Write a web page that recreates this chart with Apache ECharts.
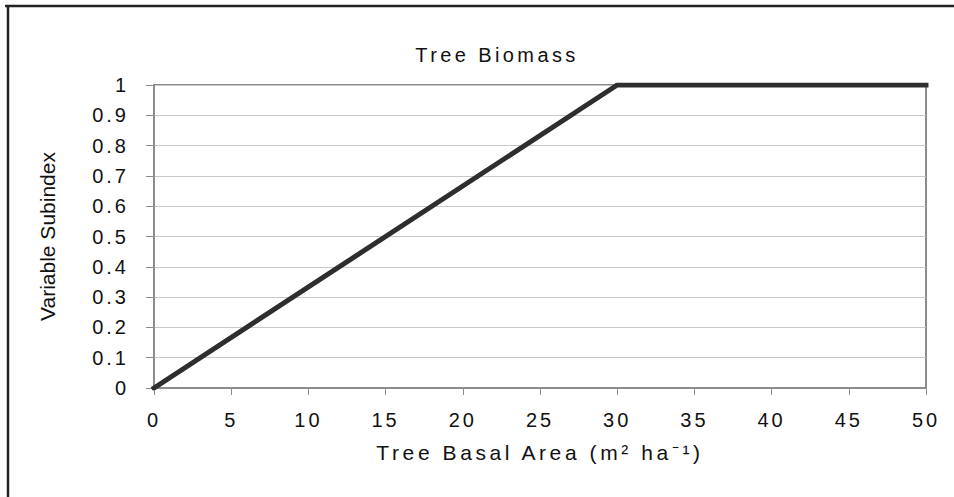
<!DOCTYPE html>
<html>
<head>
<meta charset="utf-8">
<title>Tree Biomass</title>
<script src="https://cdn.jsdelivr.net/npm/echarts@6/dist/echarts.min.js"></script>
<style>
  html, body { margin: 0; padding: 0; background: #fff; }
  /* spaced-out lettering like the original figure (svg text inherits it) */
  #chart { width: 954px; height: 497px; letter-spacing: 3px; }
</style>
</head>
<body>
<div id="chart"></div>
<script>
// data: basal area (m2/ha) -> variable subindex
const basalArea = [0, 30, 50];
const subindex = [0, 1, 1];

const xMin = 0, xMax = 50, xStep = 5;
const yMin = 0, yMax = 1, yStep = 0.1;

const titleText = 'Tree Biomass';
const xName = 'Tree Basal Area (m² ha⁻¹)';
const yName = 'Variable Subindex';

const chart = echarts.init(document.getElementById('chart'), null, { renderer: 'svg' });

const font = '"Liberation Sans", Arial, sans-serif';

const option = {
  animation: false,
  backgroundColor: '#fff',
  grid: {
    left: 154,
    right: 28,
    top: 85,
    bottom: 109,
    show: true,
    borderColor: '#8c8c8c',
    borderWidth: 2
  },
  graphic: [
    // outer frame (only top + left edges are visible)
    { type: 'line', shape: { x1: 5, y1: 6, x2: 954, y2: 6 }, style: { stroke: '#222', lineWidth: 2.5 } },
    { type: 'line', shape: { x1: 8, y1: 5, x2: 8, y2: 497 }, style: { stroke: '#222', lineWidth: 2.5 } },
    {
      type: 'text', x: 497, y: 55,
      style: { text: titleText, font: '20px ' + font, fill: '#111', align: 'center', verticalAlign: 'middle' }
    }
  ],
  xAxis: {
    type: 'value',
    min: xMin,
    max: xMax,
    interval: xStep,
    name: xName,
    nameLocation: 'middle',
    nameGap: 54,
    nameTextStyle: { color: '#111', fontSize: 21, fontFamily: font },
    axisLine: { lineStyle: { color: '#8c8c8c', width: 2 } },
    axisTick: { show: true, length: 7, lineStyle: { color: '#8c8c8c', width: 1 } },
    axisLabel: { color: '#111', fontSize: 20, fontFamily: font, margin: 22 },
    splitLine: { show: false }
  },
  yAxis: {
    type: 'value',
    min: yMin,
    max: yMax,
    interval: yStep,
    name: yName,
    nameLocation: 'middle',
    nameGap: 96,
    nameTextStyle: { color: '#111', fontSize: 21, fontFamily: font },
    axisLine: { lineStyle: { color: '#8c8c8c', width: 2 } },
    axisTick: { show: true, length: 8, lineStyle: { color: '#8c8c8c', width: 1 } },
    axisLabel: { color: '#111', fontSize: 20, fontFamily: font, margin: 25 },
    splitLine: { show: true, lineStyle: { color: '#c8c8c8', width: 1 } }
  },
  series: [
    {
      type: 'line',
      data: basalArea.map((x, i) => [x, subindex[i]]),
      showSymbol: false,
      lineStyle: { color: '#2e2e2e', width: 5, cap: 'square' }
    }
  ]
};

chart.setOption(option);

// per-text letter spacing tweaks
document.querySelectorAll('#chart text').forEach((t) => {
  if (t.textContent === yName) t.style.letterSpacing = '0';
  if (t.textContent === xName) t.style.letterSpacing = '3.6px';
  if (t.textContent === titleText) t.style.letterSpacing = '3.4px';
});
</script>
</body>
</html>
